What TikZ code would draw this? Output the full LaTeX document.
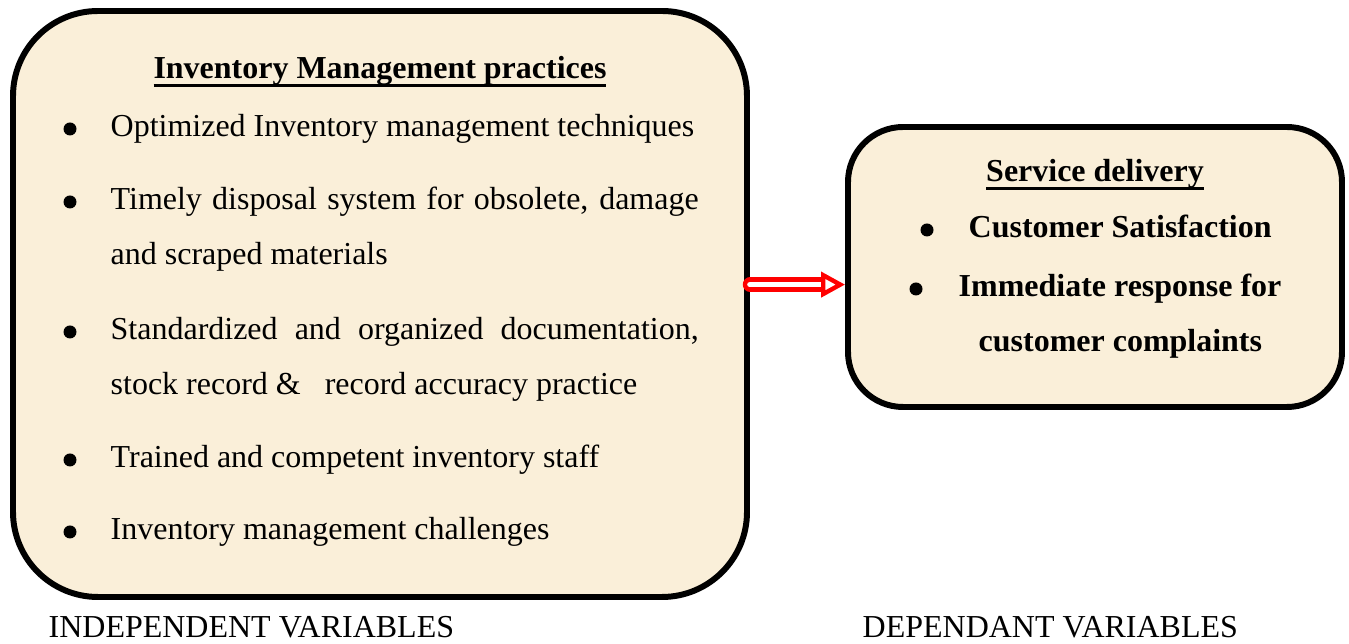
\documentclass[tikz,border=0pt]{standalone}
\usepackage{fontspec}
\setmainfont{Liberation Serif}
\usepackage{xcolor}
\usetikzlibrary{arrows.meta}
\usetikzlibrary{positioning}
\definecolor{parchment}{RGB}{250,239,217}
\newcommand{\ulhead}[1]{\setbox0\hbox{#1}\rlap{\rule[-2.2pt]{\wd0}{0.9pt}}\box0}
\tikzset{
  varbox/.style={draw=black, line width=1.7pt, fill=parchment},
  txt/.style={anchor=base west, inner sep=0pt, font=\fontsize{9.1}{11}\selectfont},
  boldtxt/.style={txt, font=\fontsize{9.1}{11}\selectfont\bfseries},
  dot/.style={circle, fill=black, inner sep=0pt, minimum size=1.3mm},
  head/.style={anchor=base, inner sep=0pt, font=\fontsize{9.1}{11}\selectfont\bfseries},
  arrowline/.style={draw=red, line width=1.25pt, double=white, double distance=1.6pt,
    -{Triangle[open, length=2.4mm, width=2.5mm, fill=white]}}
}
\begin{document}
\begin{tikzpicture}[x=0.1mm, y=-0.1mm, line cap=round, line join=round]
\useasboundingbox (0,0) rectangle (1349,644);
% boxes
\node[varbox, minimum width=73.4mm, minimum height=58.6mm, rounded corners=8.5mm] (imp) at (380,304) {};
\node[varbox, minimum width=49.4mm, minimum height=28mm, rounded corners=5.5mm] (serv) at (1095,267) {};
% independent side
\node[head] (imphead) at (380,79) {\ulhead{Inventory Management practices}};
\foreach \y [count=\i] in {137,210,340,468,540}
  \node[dot] (dot\i) at (70,\y-8) {};
\node[txt] (t1) at (110,137) {Optimized Inventory management techniques};
\node[txt] (t2a) at (110,210) {\makebox[58.8mm][s]{Timely disposal system for obsolete, damage}};
\node[txt] (t2b) at (110,265) {and scraped materials};
\node[txt] (t3a) at (110,340) {\makebox[58.8mm][s]{Standardized and organized documentation,}};
\node[txt] (t3b) at (110,395) {stock record \&\ \ \ record accuracy practice};
\node[txt] (t4) at (110,468) {Trained and competent inventory staff};
\node[txt] (t5) at (110,540) {Inventory management challenges};
% dependent side
\node[head] (servhead) at (1095,182) {\ulhead{Service delivery}};
\node[dot] (sdot1) at (927,230) {};
\node[dot] (sdot2) at (916,289) {};
\node[boldtxt] (s1) at (968,238) {Customer Satisfaction};
\node[boldtxt] (s2a) at (958,297) {Immediate response for};
\node[boldtxt] (s2b) at (978,352) {customer complaints};
% arrow
\draw[arrowline] (imp.3) -- (imp.3 -| serv.west);
% captions
\node[txt] (indep) at (48,638) {INDEPENDENT VARIABLES};
\node[txt] (dep) at (862,638) {DEPENDANT VARIABLES};
\end{tikzpicture}
\end{document}
